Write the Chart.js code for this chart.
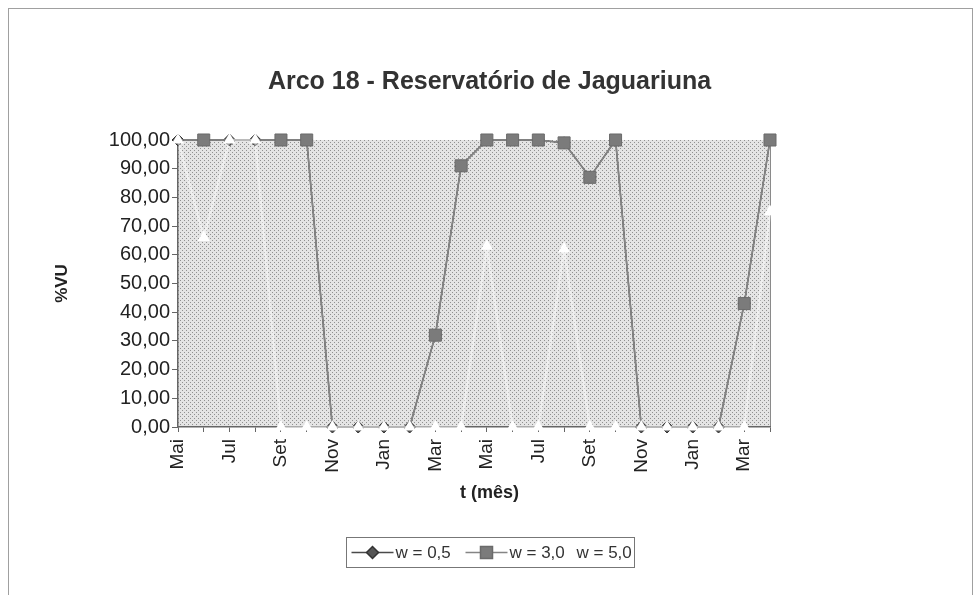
<!DOCTYPE html>
<html>
<head>
<meta charset="utf-8">
<script src="https://cdn.jsdelivr.net/npm/chart.js@4"></script>
<style>
  html, body { margin: 0; background: #fff; }
  #wrap { width: 979px; height: 595px; position: relative; }
</style>
</head>
<body>
<div id="wrap"><canvas id="arcoChart"></canvas></div>
<script>
// dados
const meses = ['Mai', 'Jun', 'Jul', 'Ago', 'Set', 'Out', 'Nov', 'Dez', 'Jan', 'Fev', 'Mar', 'Abr',
               'Mai', 'Jun', 'Jul', 'Ago', 'Set', 'Out', 'Nov', 'Dez', 'Jan', 'Fev', 'Mar', 'Abr'];
const w05 = [100, 100, 100, 100, 100, 100, 0, 0, 0, 0, 32, 91, 100, 100, 100, 99, 87, 100, 0, 0, 0, 0, 43, 100];
const w30 = [100, 100, 100, 100, 100, 100, 0, 0, 0, 0, 32, 91, 100, 100, 100, 99, 87, 100, 0, 0, 0, 0, 43, 100];
const w50 = [100, 66, 100, 100, 0, 0, 0, 0, 0, 0, 0, 0, 63, 0, 0, 62, 0, 0, 0, 0, 0, 0, 0, 75];
const yTicks = [0, 10, 20, 30, 40, 50, 60, 70, 80, 90, 100];
const legendas = ['w = 0,5', 'w = 3,0', 'w = 5,0'];
const tituloX = 't (mês)';

const fonte = '"Liberation Sans", Arial, sans-serif';

// textura pontilhada da área do gráfico
const tile = document.createElement('canvas');
tile.width = 4; tile.height = 4;
const tctx = tile.getContext('2d');
tctx.fillStyle = '#e4e4e4';
tctx.fillRect(0, 0, 4, 4);
tctx.fillStyle = '#909090';
tctx.fillRect(0, 0, 1, 1);
tctx.fillRect(2, 2, 1, 1);

const fundo = {
  id: 'fundo',
  beforeDraw(chart) {
    const { ctx, chartArea: a } = chart;
    ctx.save();
    ctx.fillStyle = '#fff';
    ctx.fillRect(0, 0, chart.width, chart.height);
    ctx.strokeStyle = '#a0a0a0';
    ctx.lineWidth = 1;
    ctx.strokeRect(8.5, 8.5, chart.width - 15, chart.height + 10);
    ctx.fillStyle = ctx.createPattern(tile, 'repeat');
    ctx.fillRect(a.left, a.top, a.width, a.height);
    ctx.strokeStyle = '#8a8a8a';
    ctx.beginPath();
    ctx.moveTo(a.right + 0.5, a.top);
    ctx.lineTo(a.right + 0.5, a.bottom);
    ctx.stroke();
    ctx.restore();
  },
  afterDraw(chart) {
    const ctx = chart.ctx;
    ctx.save();
    // título do eixo x
    ctx.fillStyle = '#222';
    ctx.font = 'bold 18px ' + fonte;
    ctx.textAlign = 'center';
    ctx.textBaseline = 'middle';
    ctx.fillText(tituloX, chart.width / 2, chart.chartArea.bottom + 66);

    // legenda com linha + marcador, como no Excel
    const bw = 288, bh = 30;
    const x0 = Math.round(chart.width / 2 - bw / 2) + 0.5;
    const y0 = chart.height - 58 + 0.5;
    ctx.fillStyle = '#fff';
    ctx.fillRect(x0, y0, bw, bh);
    ctx.strokeStyle = '#777';
    ctx.lineWidth = 1;
    ctx.strokeRect(x0, y0, bw, bh);
    const cy = y0 + bh / 2;
    const pos = [x0 + 5, x0 + 119, x0 + 186];
    ctx.font = '17px ' + fonte;
    ctx.textAlign = 'left';
    chart.data.datasets.forEach((ds, i) => {
      const x = pos[i];
      if (i < 2) {
        ctx.strokeStyle = ds.borderColor;
        ctx.lineWidth = 1.5;
        ctx.beginPath();
        ctx.moveTo(x, cy);
        ctx.lineTo(x + 42, cy);
        ctx.stroke();
        ctx.fillStyle = ds.pointBackgroundColor;
        ctx.strokeStyle = ds.pointBorderColor;
        Chart.helpers.drawPoint(ctx, {
          pointStyle: ds.pointStyle, radius: ds.legendRadius, rotation: 0, borderWidth: 1
        }, x + 21, cy);
      }
      ctx.fillStyle = '#333';
      ctx.fillText(legendas[i], x + 44, cy + 1);
    });
    ctx.restore();
  }
};

// quadrados de w = 3,0 ficam escondidos onde w = 5,0 passa por cima
const raioQuadrado = (c) => (w50[c.dataIndex] === w30[c.dataIndex] ? 0 : 8.5);

const ctx = document.getElementById('arcoChart').getContext('2d');
const chart = new Chart(ctx, {
  type: 'line',
  data: {
    labels: meses,
    datasets: [
      {
        label: legendas[0],
        data: w05,
        borderColor: '#4a4a4a',
        borderWidth: 1.5,
        pointStyle: 'rectRot',
        pointRadius: 6,
        legendRadius: 6,
        pointBackgroundColor: '#555',
        pointBorderColor: '#333',
        pointBorderWidth: 1,
        clip: false,
        order: 3
      },
      {
        label: legendas[1],
        data: w30,
        borderColor: '#858585',
        borderWidth: 1.5,
        pointStyle: 'rect',
        pointRadius: raioQuadrado,
        legendRadius: 8.5,
        pointBackgroundColor: '#7b7b7b',
        pointBorderColor: '#6a6a6a',
        pointBorderWidth: 1,
        clip: false,
        order: 2
      },
      {
        label: legendas[2],
        data: w50,
        borderColor: 'rgba(255,255,255,0.45)',
        borderWidth: 2.5,
        pointStyle: 'triangle',
        pointRadius: 7,
        pointBackgroundColor: '#ffffff',
        pointBorderColor: '#ffffff',
        pointBorderWidth: 0,
        clip: false,
        order: 1
      }
    ]
  },
  options: {
    responsive: true,
    maintainAspectRatio: false,
    animation: false,
    layout: { padding: { left: 0, right: 0, top: 0, bottom: 75 } },
    elements: { line: { tension: 0 } },
    scales: {
      x: {
        type: 'category',
        offset: false,
        grid: { drawOnChartArea: false, drawTicks: true, tickLength: 5, color: '#666' },
        border: { color: '#666', width: 1.5 },
        ticks: {
          autoSkip: false,
          minRotation: 90,
          maxRotation: 90,
          padding: 7,
          color: '#222',
          font: { size: 19, family: fonte },
          callback: function (v, i) {
            return i % 2 === 0 ? this.getLabelForValue(v) : '';
          }
        },
        afterFit(scale) { scale.height = 93; }
      },
      y: {
        min: 0,
        max: 100,
        afterBuildTicks(scale) { scale.ticks = yTicks.map(v => ({ value: v })); },
        grid: { drawOnChartArea: false, drawTicks: true, tickLength: 6, color: '#666' },
        border: { color: '#666', width: 1.5 },
        ticks: {
          padding: 2,
          color: '#222',
          font: { size: 20, family: fonte },
          callback: (v) => v.toFixed(2).replace('.', ',')
        },
        title: {
          display: true,
          text: '%VU',
          color: '#222',
          font: { size: 17, family: fonte, weight: 'bold' },
          padding: { top: 52, bottom: 0 }
        },
        afterFit(scale) { scale.width = 178; }
      },
      // eixo vazio só para reservar o espaço à direita
      margem: {
        type: 'linear',
        position: 'right',
        grid: { display: false },
        border: { display: false },
        ticks: { display: false },
        afterFit(scale) { scale.width = 209; }
      }
    },
    plugins: {
      legend: { display: false },
      tooltip: { enabled: false },
      title: {
        display: true,
        text: 'Arco 18 - Reservatório de Jaguariuna',
        color: '#333',
        font: { size: 25, family: fonte, weight: 'bold' },
        padding: { top: 67, bottom: 43 }
      }
    }
  },
  plugins: [fundo]
});
</script>
</body>
</html>
